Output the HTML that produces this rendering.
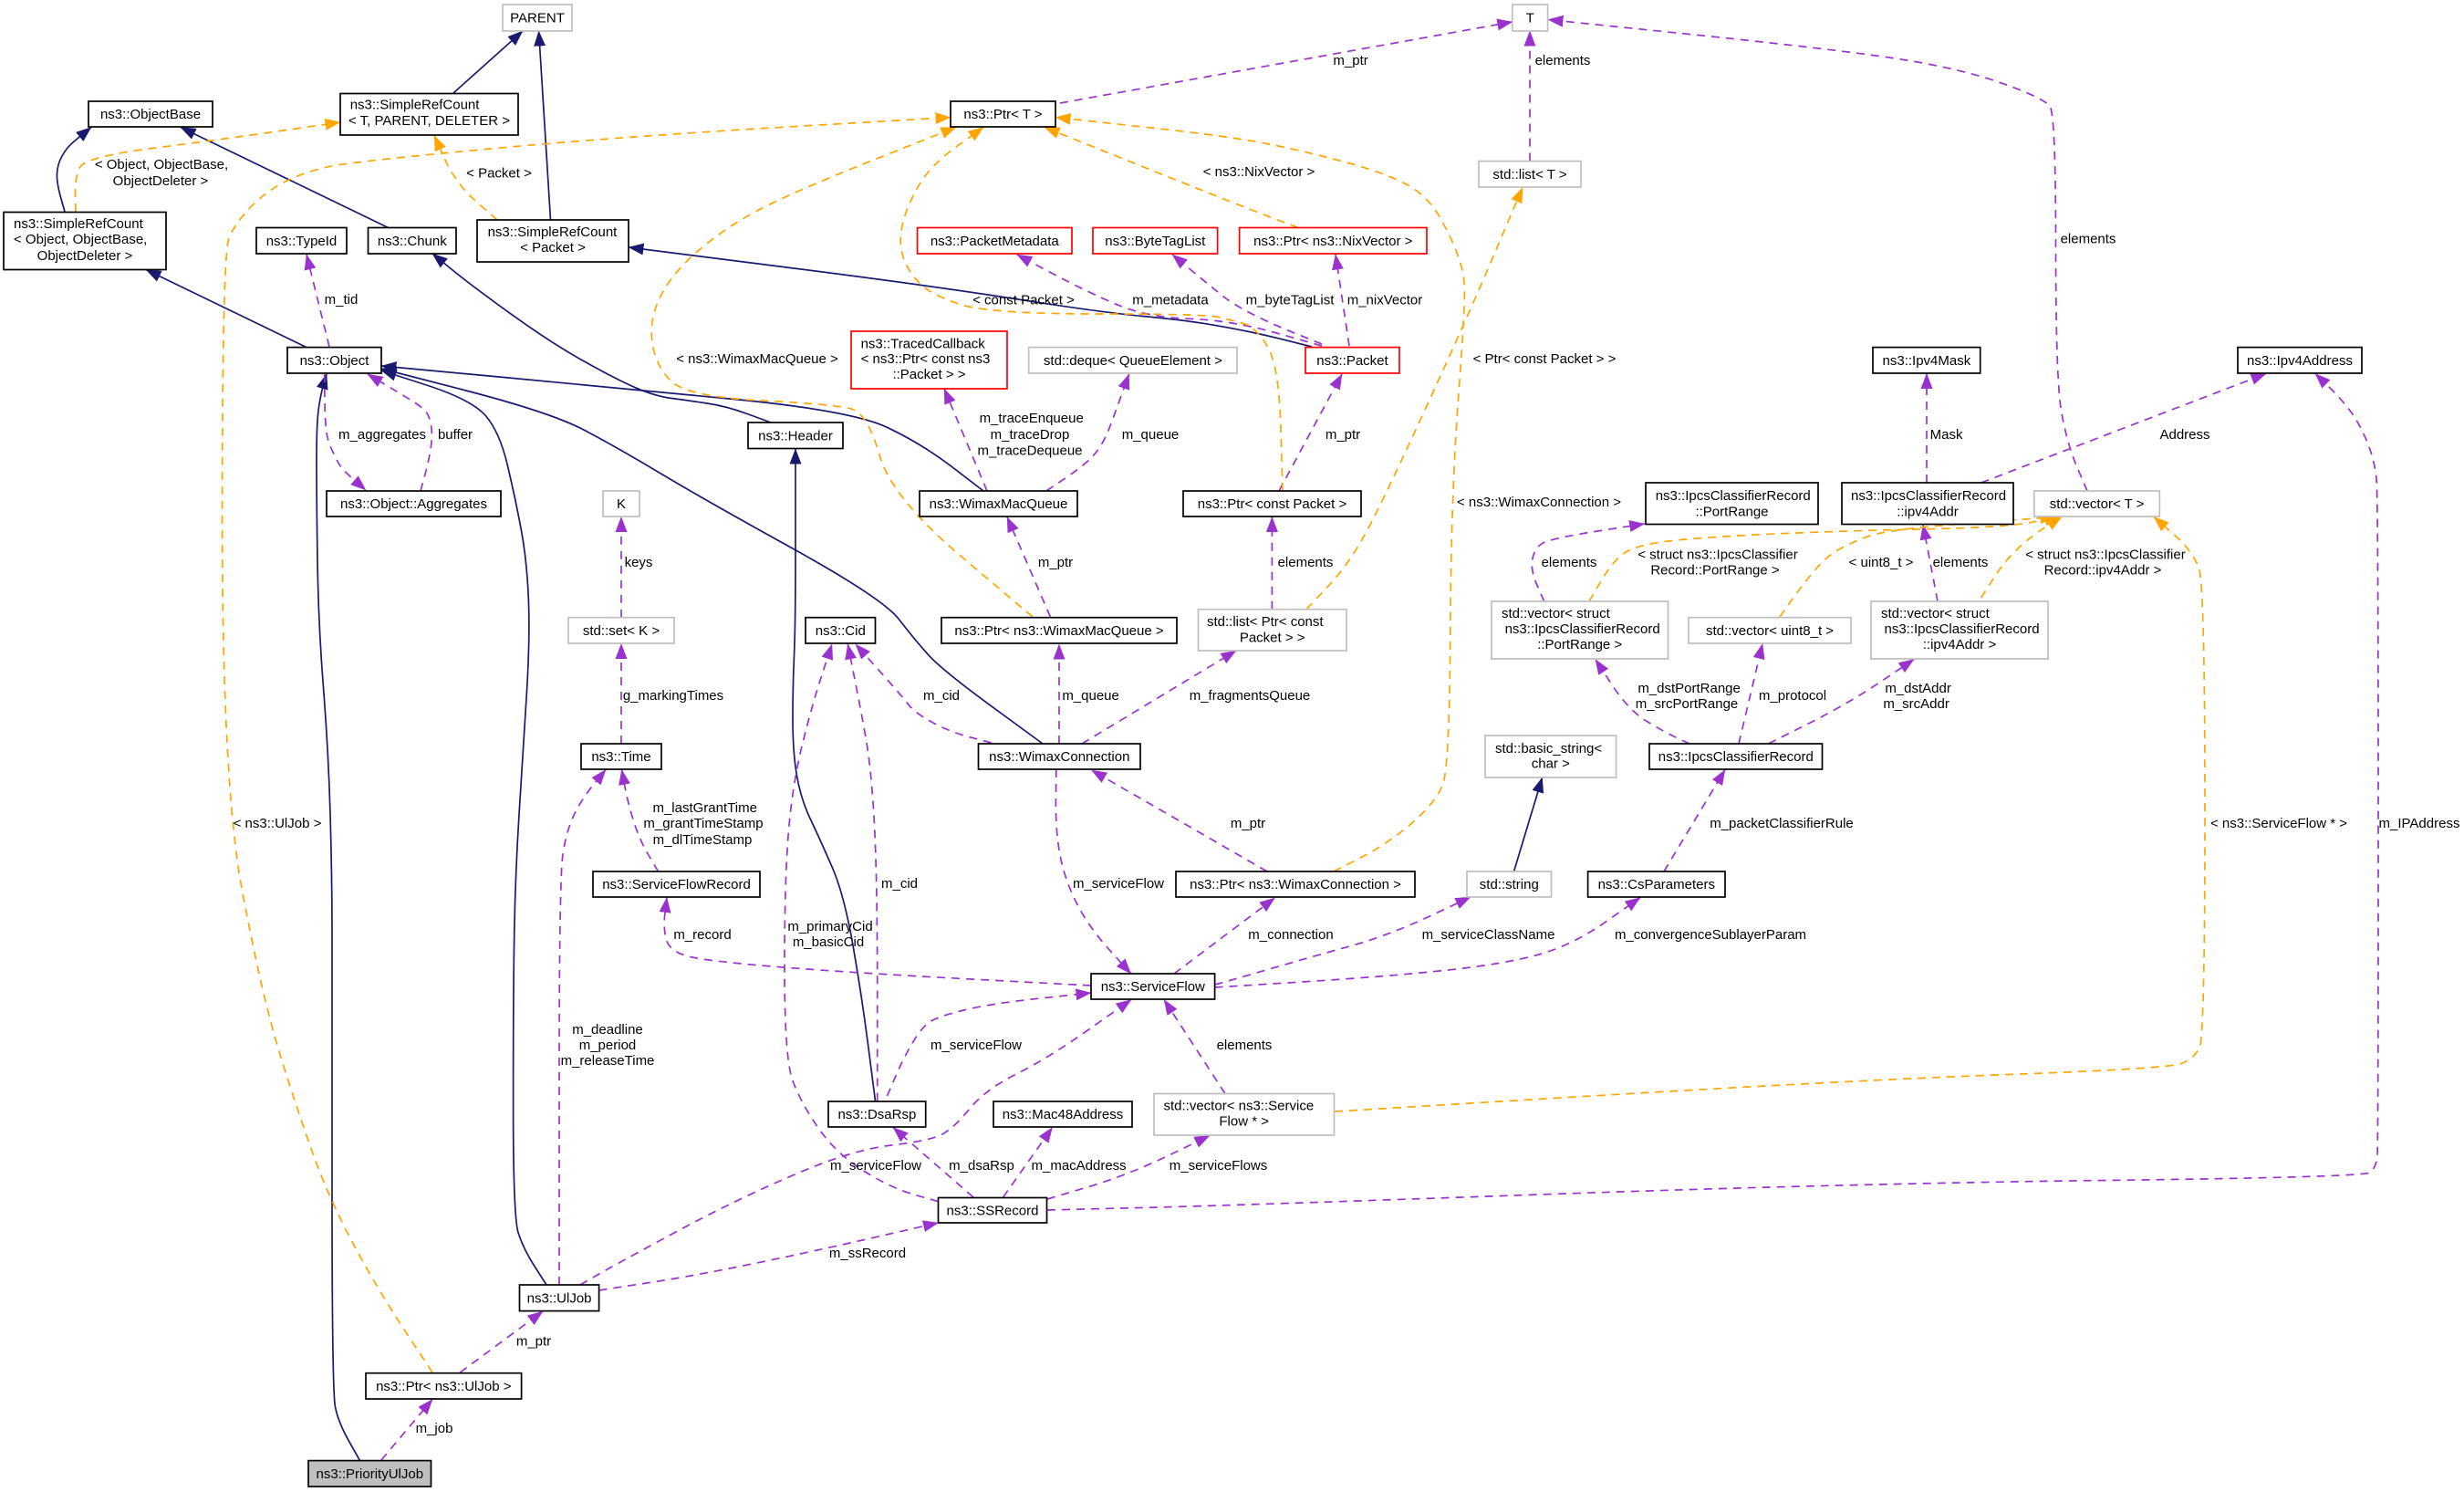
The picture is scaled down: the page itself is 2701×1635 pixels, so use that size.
<!DOCTYPE html>
<html><head><meta charset="utf-8">
<style>
html,body{margin:0;padding:0;background:#fff}
svg{display:block}
text{font-family:"Liberation Sans",sans-serif;font-size:15px;fill:#000}
.c{text-anchor:middle}
.b{fill:none;stroke:#191970;stroke-width:1.7}
.p{fill:none;stroke:#9a32cd;stroke-width:1.7;stroke-dasharray:9 7}
.o{fill:none;stroke:#ffa500;stroke-width:1.7;stroke-dasharray:9 7}
.n{fill:#fff;stroke:#000;stroke-width:1.7}
.g{fill:#fff;stroke:#bfbfbf;stroke-width:1.7}
.r{fill:#fff;stroke:#ff0000;stroke-width:1.7}
</style></head><body>
<svg width="2701" height="1635" viewBox="0 0 2701 1635" xmlns="http://www.w3.org/2000/svg">
<defs>
<marker id="mb" markerUnits="userSpaceOnUse" markerWidth="17" markerHeight="13" viewBox="0 0 17 13" refX="16.5" refY="6.5" orient="auto"><path d="M0,0 L17,6.5 L0,13 z" fill="#191970"/></marker>
<marker id="mp" markerUnits="userSpaceOnUse" markerWidth="17" markerHeight="13" viewBox="0 0 17 13" refX="16.5" refY="6.5" orient="auto"><path d="M0,0 L17,6.5 L0,13 z" fill="#9a32cd"/></marker>
<marker id="mo" markerUnits="userSpaceOnUse" markerWidth="17" markerHeight="13" viewBox="0 0 17 13" refX="16.5" refY="6.5" orient="auto"><path d="M0,0 L17,6.5 L0,13 z" fill="#ffa500"/></marker>
</defs>
<rect width="2701" height="1635" fill="#fff"/>

<!-- Blue inheritance edges -->
<g class="b" marker-end="url(#mb)">
<path d="M497,102 L573,34"/>
<path d="M603.5,241 L590.6,34"/>
<path d="M71,232 L62,200 L63,180 L73,162 L87,150 L100,139.5"/>
<path d="M425.5,249.5 L198,139.5"/>
<path d="M336,380.6 L160,295.5"/>
<path d="M1438,380 L1393,368.5 L1350,359.5 L1300,351 L1205,342 L1020,313 L689,271"/>
<path d="M845,463 L796,445 L753,438.7 L718,434 L675,415.5 L603.5,375.4 L517,313 L474,278"/>
<path d="M1078,538 L1011,486.6 L933.7,450 L676,425 L418,401"/>
<path d="M1143,815 L1032.8,734.4 L1002.6,701 L968,656 L767.7,545 L676,490 L603.5,452 L418,404"/>
<path d="M599,1408 L573.4,1368 L562.6,1333 L562.6,1090 L564.7,962 L573.4,823 L581,701 L577.7,614.5 L564.7,545 L547.5,473 L517,438 L418,406"/>
<path d="M394.5,1600.6 L371,1559 L364,1524.5 L364,1090 L364,962 L360,823 L349,684 L347,545 L347,462 L352,430 L358,410"/>
<path d="M959.5,1206.5 L944.5,1090 L925,979.5 L899,920 L877.6,875 L869,823 L869,753.5 L872,684 L872,545 L872,492"/>
<path d="M1659.5,955 L1690.6,852"/>
</g>

<!-- Purple usage edges -->
<g class="p" marker-end="url(#mp)">
<path d="M1162,113 L1657.8,24"/>
<path d="M1677,176.6 L1677,34"/>
<path d="M2288,538 L2266,486.6 L2253.5,417 L2253.5,125 L2240.5,107.8 L2154,76.5 L2026,55.6 L1697,21.5"/>
<path d="M361,380 L336,279"/>
<path d="M355.7,410 L356,450 L358,480 L367,500 L375,514.5 L401,537"/>
<path d="M461,538 L470,505 L474,480 L472,460 L465.6,448 L440,432 L403,410"/>
<path d="M1449,379 L1350,351 L1257,347.6 L1192,320 L1114.7,279"/>
<path d="M1449,377 L1393,354.6 L1351,333 L1330,316 L1285,279"/>
<path d="M1479,379 L1464,279"/>
<path d="M1402,538 L1471,410"/>
<path d="M1082,538 L1035,426"/>
<path d="M1147,538 L1192,507.5 L1210,485 L1222.5,452 L1237.6,410"/>
<path d="M1151.4,676 L1104,566.5"/>
<path d="M1086.7,814 L1041,802 L1002.6,781 L989.7,764 L938,706"/>
<path d="M961.7,1206.5 L961.7,962 L955,840.5 L942.3,771 L929.4,706"/>
<path d="M1028.5,1316.6 L976.8,1302 L916.4,1264 L877.6,1208 L860,1159.5 L860,962 L869,858 L890.6,771 L912,706"/>
<path d="M1161,815 L1161,706"/>
<path d="M1186,815 L1355,713"/>
<path d="M1394.4,667.7 L1394.4,566.5"/>
<path d="M1389,955 L1196.6,844"/>
<path d="M1157.8,843 L1157,910 L1166.5,962 L1192,1014 L1239.7,1067"/>
<path d="M1287,1067 L1397.4,984"/>
<path d="M1331.6,1079 L1350,1074 L1436,1049 L1522.5,1025 L1612,983"/>
<path d="M1331.6,1082 L1522.5,1070 L1652,1056 L1725,1035 L1798,983.5"/>
<path d="M1196,1080 L933.7,1066 L782.8,1054 L735,1044 L726.7,1018 L731,983.5"/>
<path d="M972.5,1201 L990,1160 L1011,1124.8 L1028.5,1114 L1084.6,1100 L1196,1088"/>
<path d="M636,1408 L676,1385 L804,1316 L933.7,1260 L1020,1250 L1045.8,1236 L1080,1194 L1149,1159.5 L1240,1095.5"/>
<path d="M1343,1198.5 L1276,1095.5"/>
<path d="M721.6,955 L700.8,920 L688,878.7 L681.5,843.5"/>
<path d="M613,1408 L613,962 L621,910 L638,875 L664,843.5"/>
<path d="M681,815 L681,705.5"/>
<path d="M681,676.7 L681,566.5"/>
<path d="M656.6,1414 L676,1411 L761,1398 L890.6,1371.5 L1028.5,1340"/>
<path d="M504.4,1504 L595,1437"/>
<path d="M418,1600 L474,1533.5"/>
<path d="M1067,1312 L979,1235.5"/>
<path d="M1099.6,1312 L1153.6,1235.5"/>
<path d="M1148,1314 L1235.5,1288 L1326,1244.5"/>
<path d="M1148,1326 L1351,1321 L2026,1297 L2590,1290 L2605,1280 L2607,1250 L2607,545 L2603,504 L2585.5,462 L2564,434.5 L2538,409.5"/>
<path d="M2112,529 L2112,409.5"/>
<path d="M2171.6,529 L2484,409.5"/>
<path d="M2124,659 L2108,575"/>
<path d="M1692.7,659 L1677.6,625 L1682,600.6 L1700,590 L1802.7,574"/>
<path d="M1852,815 L1824,802 L1785,778 L1748.8,722.5"/>
<path d="M1906,815 L1932,705.5"/>
<path d="M1938.5,815 L2026,771 L2098,722.5"/>
<path d="M1824,955 L1891,843.5"/>
</g>

<!-- Orange template edges -->
<g class="o" marker-end="url(#mo)">
<path d="M83,232 L82,195 L93,172 L241,153 L373,134"/>
<path d="M545,241 L500,201.6 L476,148.5"/>
<path d="M474,1504 L414,1413 L362,1316 L327.6,1222 L286.7,1090 L243.6,858 L243.6,278 L258.7,243 L293,208.6 L336,187.7 L388,177 L676,150 L1042,128.6"/>
<path d="M1132,676 L977,545 L951,452 L912,443 L752.6,434.5 L718,400 L711.6,347.6 L739.7,295.5 L804,243 L890.5,201.6 L1048,139.5"/>
<path d="M1406,538 L1402,400 L1376,358 L1350,351 L1321.6,344 L1084.6,344 L1020,323 L994,295.5 L985,264 L994,226 L1020,181 L1078,139.5"/>
<path d="M1423,249.5 L1351,222 L1145,139.5"/>
<path d="M1462,955 L1522.5,924 L1574,879 L1589,840.5 L1590.6,545 L1606.5,330 L1604,295.5 L1591,260.7 L1565.5,215.5 L1522.5,191 L1436,167 L1350,149.5 L1157,128.6"/>
<path d="M1432,667.7 L1479,618 L1518,545 L1608.7,347.6 L1669,205.5"/>
<path d="M1742,659 L1768,614.5 L1794,597 L1867,588.5 L2026,581.5 L2197,578 L2258,566.5"/>
<path d="M1951,676 L1975,642 L2001,611 L2026,596 L2068,580 L2253,566.5"/>
<path d="M2171.6,655 L2197.5,614.5 L2227.6,586.7 L2260,566.5"/>
<path d="M1463,1218 L2026,1184 L2377,1171 L2405,1160 L2417,1137 L2417,642 L2404,604 L2361,566.5"/>
</g>

<!-- Nodes -->
<rect class="g" x="551" y="5" width="76" height="29"/>
<rect class="n" x="373" y="102.5" width="195" height="45.5"/>
<rect class="n" x="97" y="111" width="136" height="28"/>
<rect class="n" x="4" y="232.5" width="178" height="63"/>
<rect class="n" x="281" y="249.5" width="99" height="28.5"/>
<rect class="n" x="403.5" y="249.5" width="96.5" height="28.5"/>
<rect class="n" x="523" y="241" width="166" height="46"/>
<rect class="n" x="315" y="380.6" width="103" height="28.4"/>
<rect class="n" x="358" y="538" width="191" height="28"/>
<rect class="n" x="1042" y="111" width="115" height="28"/>
<rect class="r" x="1005.6" y="249.5" width="169.4" height="28.5"/>
<rect class="r" x="1198" y="249.5" width="136.6" height="28.5"/>
<rect class="r" x="933" y="363" width="171" height="63"/>
<rect class="g" x="1127.7" y="380.6" width="228.3" height="28.4"/>
<rect class="n" x="820" y="463" width="104" height="28.5"/>
<rect class="n" x="1008" y="538" width="173" height="28"/>
<rect class="g" x="1657.8" y="5" width="38.8" height="29"/>
<rect class="g" x="1621" y="176.6" width="112" height="28.4"/>
<rect class="r" x="1358.6" y="249.5" width="205.4" height="28.5"/>
<rect class="r" x="1431" y="380.6" width="103" height="28.4"/>
<rect class="n" x="1297" y="538" width="195" height="28"/>
<rect class="n" x="1804" y="529" width="189" height="45.5"/>
<rect class="n" x="2053" y="380.6" width="117.7" height="28.4"/>
<rect class="n" x="2453" y="380.6" width="136" height="28.4"/>
<rect class="n" x="2019" y="529" width="188" height="45.5"/>
<rect class="g" x="2229.8" y="538" width="137.5" height="28"/>
<rect class="g" x="623" y="676.7" width="116" height="28.3"/>
<rect class="n" x="637" y="815" width="88" height="28"/>
<rect class="n" x="650" y="955" width="183" height="28"/>
<rect class="g" x="661" y="538" width="40" height="28"/>
<rect class="n" x="883" y="676.7" width="76.5" height="28.3"/>
<rect class="n" x="1032" y="676.7" width="258" height="28.3"/>
<rect class="g" x="1313.5" y="667.7" width="162.5" height="45.3"/>
<rect class="n" x="1072.5" y="815" width="177.5" height="28"/>
<rect class="n" x="1289" y="955" width="262" height="28"/>
<rect class="n" x="1196" y="1067" width="135.6" height="28"/>
<rect class="g" x="1635" y="659" width="193.5" height="63"/>
<rect class="g" x="1851" y="676.7" width="178" height="28.3"/>
<rect class="g" x="1628" y="806" width="143.6" height="46"/>
<rect class="n" x="1808" y="815" width="189.5" height="28"/>
<rect class="g" x="1608" y="955" width="92.5" height="28"/>
<rect class="n" x="1740.6" y="955" width="150.4" height="28"/>
<rect class="g" x="2051" y="659" width="194" height="63"/>
<rect class="n" x="569.5" y="1408" width="87.1" height="28.6"/>
<rect class="n" x="401" y="1504.7" width="170.6" height="28.3"/>
<rect x="338" y="1600.6" width="134.5" height="28.4" fill="#bfbfbf" stroke="#000" stroke-width="1.7"/>
<rect class="n" x="908" y="1207" width="106.7" height="28"/>
<rect class="n" x="1089" y="1207" width="152" height="28"/>
<rect class="g" x="1265" y="1198.5" width="197.5" height="45.5"/>
<rect class="n" x="1028.5" y="1312.5" width="119" height="27.5"/>

<!-- Node labels -->
<g>
<text class="c" x="589" y="24.5">PARENT</text>
<text x="383.7" y="119.7">ns3::SimpleRefCount</text>
<text class="c" x="470.5" y="137">&lt; T, PARENT, DELETER &gt;</text>
<text class="c" x="165" y="130">ns3::ObjectBase</text>
<text x="15" y="250">ns3::SimpleRefCount</text>
<text x="15" y="267">&lt; Object, ObjectBase,</text>
<text class="c" x="93" y="285">ObjectDeleter &gt;</text>
<text class="c" x="330.5" y="268.8">ns3::TypeId</text>
<text class="c" x="451.8" y="268.8">ns3::Chunk</text>
<text x="534.6" y="259">ns3::SimpleRefCount</text>
<text class="c" x="606" y="276">&lt; Packet &gt;</text>
<text class="c" x="366.5" y="399.8">ns3::Object</text>
<text class="c" x="453.5" y="557">ns3::Object::Aggregates</text>
<text class="c" x="1099.5" y="130">ns3::Ptr&lt; T &gt;</text>
<text class="c" x="1090.3" y="268.8">ns3::PacketMetadata</text>
<text class="c" x="1266.3" y="268.8">ns3::ByteTagList</text>
<text x="943.6" y="381.5">ns3::TracedCallback</text>
<text x="943.6" y="398">&lt; ns3::Ptr&lt; const ns3</text>
<text class="c" x="1018.5" y="415">::Packet &gt; &gt;</text>
<text class="c" x="1241.9" y="399.8">std::deque&lt; QueueElement &gt;</text>
<text class="c" x="872" y="482.3">ns3::Header</text>
<text class="c" x="1094.5" y="557">ns3::WimaxMacQueue</text>
<text class="c" x="1677.2" y="24.5">T</text>
<text class="c" x="1677" y="195.8">std::list&lt; T &gt;</text>
<text class="c" x="1461.3" y="268.8">ns3::Ptr&lt; ns3::NixVector &gt;</text>
<text class="c" x="1482.5" y="399.8">ns3::Packet</text>
<text class="c" x="1394.5" y="557">ns3::Ptr&lt; const Packet &gt;</text>
<text x="1814.7" y="548">ns3::IpcsClassifierRecord</text>
<text class="c" x="1898.5" y="565.5">::PortRange</text>
<text class="c" x="2111.9" y="399.8">ns3::Ipv4Mask</text>
<text class="c" x="2521" y="399.8">ns3::Ipv4Address</text>
<text x="2029" y="548">ns3::IpcsClassifierRecord</text>
<text class="c" x="2113" y="565.5">::ipv4Addr</text>
<text class="c" x="2298.6" y="557">std::vector&lt; T &gt;</text>
<text class="c" x="681" y="695.9">std::set&lt; K &gt;</text>
<text class="c" x="681" y="834">ns3::Time</text>
<text class="c" x="741.5" y="974">ns3::ServiceFlowRecord</text>
<text class="c" x="681" y="557">K</text>
<text class="c" x="921.3" y="695.9">ns3::Cid</text>
<text class="c" x="1161" y="695.9">ns3::Ptr&lt; ns3::WimaxMacQueue &gt;</text>
<text x="1323" y="686">std::list&lt; Ptr&lt; const</text>
<text class="c" x="1394.7" y="703.5">Packet &gt; &gt;</text>
<text class="c" x="1161.3" y="834">ns3::WimaxConnection</text>
<text class="c" x="1420" y="974">ns3::Ptr&lt; ns3::WimaxConnection &gt;</text>
<text class="c" x="1263.8" y="1086">ns3::ServiceFlow</text>
<text x="1646" y="677">std::vector&lt; struct</text>
<text x="1649.6" y="694">ns3::IpcsClassifierRecord</text>
<text class="c" x="1731.7" y="711">::PortRange &gt;</text>
<text class="c" x="1940" y="695.9">std::vector&lt; uint8_t &gt;</text>
<text x="1639" y="825">std::basic_string&lt;</text>
<text class="c" x="1699.8" y="841.5">char &gt;</text>
<text class="c" x="1902.8" y="834">ns3::IpcsClassifierRecord</text>
<text class="c" x="1654.3" y="974">std::string</text>
<text class="c" x="1815.8" y="974">ns3::CsParameters</text>
<text x="2062" y="677">std::vector&lt; struct</text>
<text x="2065.5" y="694">ns3::IpcsClassifierRecord</text>
<text class="c" x="2148" y="711">::ipv4Addr &gt;</text>
<text class="c" x="613.1" y="1427.3">ns3::UlJob</text>
<text class="c" x="486.3" y="1523.9">ns3::Ptr&lt; ns3::UlJob &gt;</text>
<text class="c" x="405.3" y="1619.8">ns3::PriorityUlJob</text>
<text class="c" x="961.4" y="1226">ns3::DsaRsp</text>
<text class="c" x="1165" y="1226">ns3::Mac48Address</text>
<text x="1275.5" y="1216.7">std::vector&lt; ns3::Service</text>
<text class="c" x="1363.7" y="1233.5">Flow * &gt;</text>
<text class="c" x="1088" y="1331.3">ns3::SSRecord</text>
</g>

<!-- Edge labels -->
<g class="c">
<text x="177" y="185">&lt; Object, ObjectBase,</text>
<text x="176" y="203">ObjectDeleter &gt;</text>
<text x="547" y="194.5">&lt; Packet &gt;</text>
<text x="374" y="333">m_tid</text>
<text x="419" y="481">m_aggregates</text>
<text x="499" y="481">buffer</text>
<text x="1480.6" y="71">m_ptr</text>
<text x="1713" y="71">elements</text>
<text x="2289" y="266.7">elements</text>
<text x="304" y="907">&lt; ns3::UlJob &gt;</text>
<text x="830" y="397.8">&lt; ns3::WimaxMacQueue &gt;</text>
<text x="1122" y="333.5">&lt; const Packet &gt;</text>
<text x="1380" y="193">&lt; ns3::NixVector &gt;</text>
<text x="1687" y="555">&lt; ns3::WimaxConnection &gt;</text>
<text x="1693" y="397.8">&lt; Ptr&lt; const Packet &gt; &gt;</text>
<text x="1883" y="612.6">&lt; struct ns3::IpcsClassifier</text>
<text x="1880" y="629.5">Record::PortRange &gt;</text>
<text x="2062" y="621">&lt; uint8_t &gt;</text>
<text x="2308" y="612.6">&lt; struct ns3::IpcsClassifier</text>
<text x="2305" y="629.5">Record::ipv4Addr &gt;</text>
<text x="2498" y="907">&lt; ns3::ServiceFlow * &gt;</text>
<text x="2652" y="907">m_IPAddress</text>
<text x="1283" y="333.5">m_metadata</text>
<text x="1414" y="333.5">m_byteTagList</text>
<text x="1518" y="333.5">m_nixVector</text>
<text x="1472" y="481">m_ptr</text>
<text x="1130.7" y="463">m_traceEnqueue</text>
<text x="1129" y="481">m_traceDrop</text>
<text x="1129" y="498.6">m_traceDequeue</text>
<text x="1261" y="481">m_queue</text>
<text x="700" y="621">keys</text>
<text x="1157" y="621">m_ptr</text>
<text x="1431" y="621">elements</text>
<text x="738" y="767">g_markingTimes</text>
<text x="1032" y="767">m_cid</text>
<text x="1195.6" y="767">m_queue</text>
<text x="1370" y="767">m_fragmentsQueue</text>
<text x="772.7" y="890">m_lastGrantTime</text>
<text x="771" y="907">m_grantTimeStamp</text>
<text x="770" y="925">m_dlTimeStamp</text>
<text x="986" y="973">m_cid</text>
<text x="1226" y="973">m_serviceFlow</text>
<text x="770" y="1029">m_record</text>
<text x="910" y="1020">m_primaryCid</text>
<text x="908" y="1037">m_basicCid</text>
<text x="1368" y="907">m_ptr</text>
<text x="1415" y="1029">m_connection</text>
<text x="1631.5" y="1029">m_serviceClassName</text>
<text x="1875" y="1029">m_convergenceSublayerParam</text>
<text x="1953" y="907">m_packetClassifierRule</text>
<text x="1720" y="621">elements</text>
<text x="1851.6" y="759">m_dstPortRange</text>
<text x="1849" y="776">m_srcPortRange</text>
<text x="1965" y="767">m_protocol</text>
<text x="2149" y="621">elements</text>
<text x="2102.6" y="759">m_dstAddr</text>
<text x="2100.6" y="776">m_srcAddr</text>
<text x="2133.6" y="481">Mask</text>
<text x="2395" y="481">Address</text>
<text x="666" y="1133">m_deadline</text>
<text x="666" y="1150">m_period</text>
<text x="666" y="1167">m_releaseTime</text>
<text x="1070" y="1150">m_serviceFlow</text>
<text x="1364" y="1150">elements</text>
<text x="960" y="1282">m_serviceFlow</text>
<text x="1076" y="1282">m_dsaRsp</text>
<text x="1182.6" y="1282">m_macAddress</text>
<text x="1335.5" y="1282">m_serviceFlows</text>
<text x="951" y="1378">m_ssRecord</text>
<text x="585" y="1474.6">m_ptr</text>
<text x="476" y="1570">m_job</text>
</g>
</svg>
<script>
(function(){
  var ps=document.querySelectorAll('g.b path, g.p path, g.o path');
  for(var i=0;i<ps.length;i++){
    var d=ps[i].getAttribute('d');
    var nums=d.match(/-?\d+(\.\d+)?/g);
    if(!nums||nums.length<6) continue;
    var pts=[];
    for(var j=0;j+1<nums.length;j+=2) pts.push([+nums[j],+nums[j+1]]);
    var n=pts.length;
    var s='M'+pts[0][0]+','+pts[0][1];
    var m=function(a,b){return ((a[0]+b[0])/2).toFixed(1)+','+((a[1]+b[1])/2).toFixed(1);};
    s+=' L'+m(pts[0],pts[1]);
    for(var k=1;k<n-1;k++){
      s+=' Q'+pts[k][0]+','+pts[k][1]+' '+m(pts[k],pts[k+1]);
    }
    s+=' L'+pts[n-1][0]+','+pts[n-1][1];
    ps[i].setAttribute('d',s);
  }
})();
</script>
</body></html>
